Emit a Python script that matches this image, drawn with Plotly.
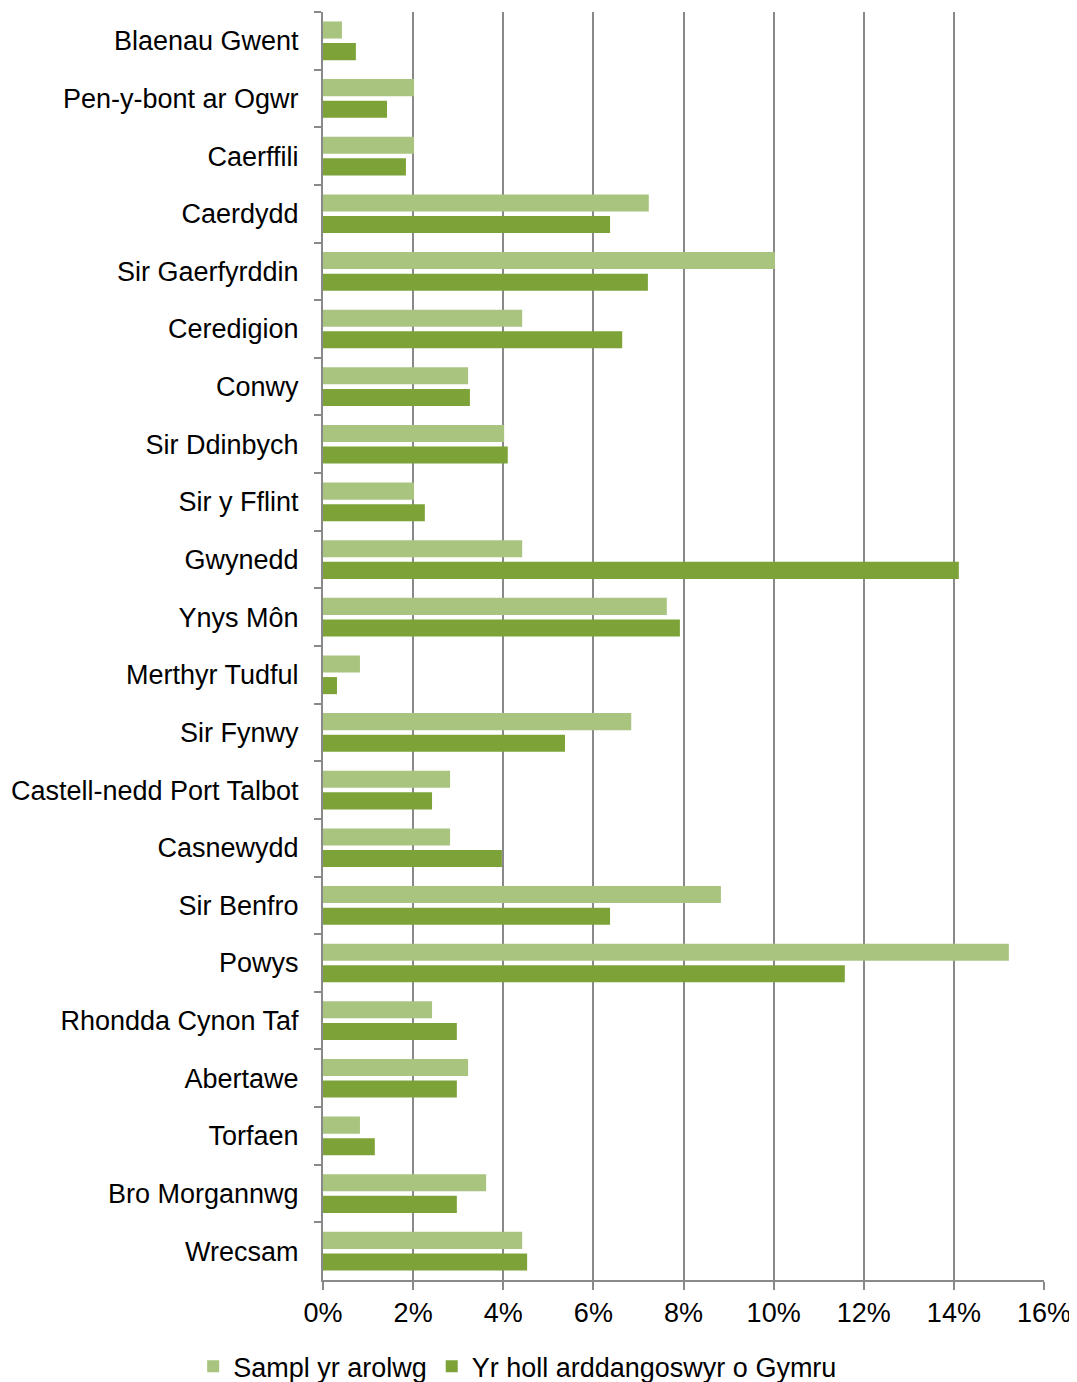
import plotly.graph_objects as go

categories = ["Blaenau Gwent", "Pen-y-bont ar Ogwr", "Caerffili", "Caerdydd", "Sir Gaerfyrddin",
              "Ceredigion", "Conwy", "Sir Ddinbych", "Sir y Fflint", "Gwynedd", "Ynys Môn",
              "Merthyr Tudful", "Sir Fynwy", "Castell-nedd Port Talbot", "Casnewydd", "Sir Benfro",
              "Powys", "Rhondda Cynon Taf", "Abertawe", "Torfaen", "Bro Morgannwg", "Wrecsam"]
sample = [0.42, 2.02, 2.02, 7.23, 10.03, 4.42, 3.22, 4.02, 2.02, 4.42, 7.63,
          0.82, 6.84, 2.82, 2.82, 8.83, 15.22, 2.42, 3.22, 0.82, 3.62, 4.42]
all_wales = [0.73, 1.42, 1.84, 6.37, 7.21, 6.64, 3.26, 4.10, 2.26, 14.11, 7.92,
             0.31, 5.37, 2.42, 3.97, 6.37, 11.58, 2.97, 2.97, 1.15, 2.97, 4.53]
series_names = ["Sampl yr arolwg", "Yr holl arddangoswyr o Gymru"]
x_ticks = [0, 2, 4, 6, 8, 10, 12, 14, 16]

fig = go.Figure()
fig.add_trace(go.Bar(y=categories, x=sample, orientation="h", name=series_names[0],
                     marker=dict(color="#A8C47F", line=dict(width=0))))
fig.add_trace(go.Bar(y=categories, x=all_wales, orientation="h", name=series_names[1],
                     marker=dict(color="#7DA338", line=dict(width=0))))

# page body has a default margin, so the figure is sized/offset to compensate
fig.update_layout(
    width=1069, height=1374,
    margin=dict(l=315, r=33, t=4, b=102, autoexpand=False),
    paper_bgcolor="white", plot_bgcolor="white",
    font=dict(family="Liberation Sans, Arial, sans-serif", size=27, color="black"),
    barmode="group", bargap=0.25, bargroupgap=0.21,
    showlegend=True,
    legend=dict(orientation="h", x=0.27, xanchor="center", y=-0.049, yanchor="top",
                font=dict(size=27), traceorder="normal", itemwidth=30),
)
fig.update_xaxes(
    range=[0, 16], tickvals=x_ticks, ticktext=[f"{v}%" for v in x_ticks],
    showgrid=True, gridcolor="#898989", gridwidth=2,
    showline=True, linecolor="#898989", linewidth=2,
    ticks="outside", ticklen=8, tickcolor="#898989", tickwidth=2,
    zeroline=False, tickfont=dict(size=27), automargin=False,
)
fig.update_yaxes(
    autorange="reversed", showgrid=False,
    showline=True, linecolor="#898989", linewidth=2,
    ticks="outside", ticklen=7, tickcolor="#898989", tickwidth=2,
    tickson="boundaries", ticklabelstandoff=17, tickfont=dict(size=27), automargin=False,
)

fig.write_html("out.html")
